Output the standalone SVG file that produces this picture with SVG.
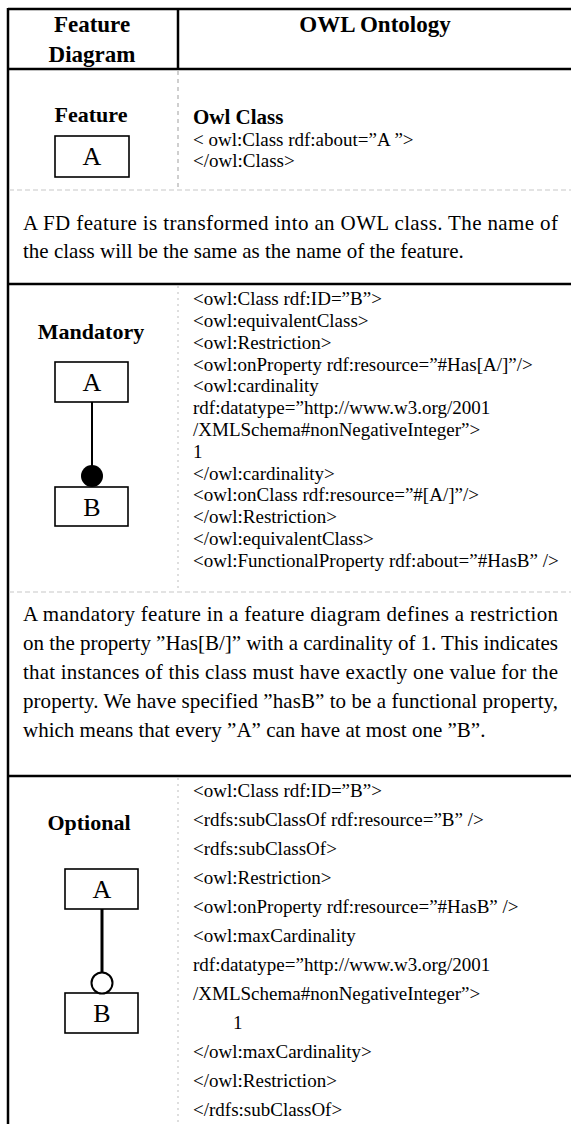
<svg xmlns="http://www.w3.org/2000/svg" width="571" height="1124" viewBox="0 0 571 1124">
<style>
text{font-family:"Liberation Serif","Times New Roman",serif;fill:#000}
.hd{font-size:23px;font-weight:bold}
.lbl{font-size:22px;font-weight:bold}
.box{fill:#fff;stroke:#000;stroke-width:1.6}
.bl{font-size:26px}
.code{font-size:19px}
.para{font-size:21px}
.solid{stroke:#000;stroke-width:2.5;fill:none}
.dash{stroke:#c8c8c8;stroke-width:1.2;stroke-dasharray:5 3;fill:none}
.vdash{stroke:#cfcfcf;stroke-width:2;stroke-dasharray:4 4;fill:none}
.vdot{stroke:#d4d4d4;stroke-width:1.5;stroke-dasharray:2 4;fill:none}
.edge{stroke:#000;fill:none}
</style>
<rect width="571" height="1124" fill="#fff"/>
<g id="table">
<line class="solid" x1="8" y1="9" x2="571" y2="9"/>
<line class="solid" x1="8" y1="8" x2="8" y2="1124"/>
<line class="solid" x1="8" y1="69" x2="571" y2="69"/>
<line class="solid" x1="178" y1="9" x2="178" y2="69"/>
<line class="vdash" x1="178" y1="71" x2="178" y2="190"/>
<line class="dash" x1="9" y1="190" x2="571" y2="190"/>
<line class="solid" x1="8" y1="284" x2="571" y2="284"/>
<line class="vdot" x1="178" y1="286" x2="178" y2="592"/>
<line class="dash" x1="9" y1="592" x2="571" y2="592"/>
<line class="solid" x1="8" y1="776" x2="571" y2="776"/>
<line class="vdot" x1="178" y1="778" x2="178" y2="1124"/>
</g>
<g id="header">
<text class="hd" x="92" y="32" text-anchor="middle">Feature</text>
<text class="hd" x="92" y="62" text-anchor="middle">Diagram</text>
<text class="hd" x="375" y="32" text-anchor="middle">OWL Ontology</text>
</g>
<g id="feature-row">
<text class="lbl" x="91" y="122" text-anchor="middle">Feature</text>
<text class="lbl" x="193" y="124" style="font-size:21px">Owl Class</text>
<text class="code" x="193" y="146">&lt; owl:Class rdf:about=”A ”&gt;</text>
<text class="code" x="193" y="167">&lt;/owl:Class&gt;</text>
</g>
<g id="node-feature-A">
<rect class="box" x="55" y="136" width="74" height="41"/>
<text class="bl" x="92" y="165" text-anchor="middle">A</text>
</g>
<g id="feature-desc">
<text class="para" x="23" y="230" textLength="535" lengthAdjust="spacing">A FD feature is transformed into an OWL class. The name of</text>
<text class="para" x="23" y="258">the class will be the same as the name of the feature.</text>
</g>
<g id="mandatory-row">
<text class="lbl" x="91" y="339" text-anchor="middle">Mandatory</text>
<text class="code" x="193" y="305">&lt;owl:Class rdf:ID=”B”&gt;</text>
<text class="code" x="193" y="327">&lt;owl:equivalentClass&gt;</text>
<text class="code" x="193" y="349">&lt;owl:Restriction&gt;</text>
<text class="code" x="193" y="371">&lt;owl:onProperty rdf:resource=”#Has[A/]”/&gt;</text>
<text class="code" x="193" y="392">&lt;owl:cardinality</text>
<text class="code" x="193" y="414">rdf:datatype=”http://www.w3.org/2001</text>
<text class="code" x="193" y="436">/XMLSchema#nonNegativeInteger”&gt;</text>
<text class="code" x="193" y="458">1</text>
<text class="code" x="193" y="480">&lt;/owl:cardinality&gt;</text>
<text class="code" x="193" y="501">&lt;owl:onClass rdf:resource=”#[A/]”/&gt;</text>
<text class="code" x="193" y="523">&lt;/owl:Restriction&gt;</text>
<text class="code" x="193" y="545">&lt;/owl:equivalentClass&gt;</text>
<text class="code" x="193" y="567">&lt;owl:FunctionalProperty rdf:about=”#HasB” /&gt;</text>
</g>
<g id="node-mandatory-A">
<rect class="box" x="55" y="362" width="73" height="40"/>
<text class="bl" x="92" y="391" text-anchor="middle">A</text>
</g>
<g id="node-mandatory-B">
<rect class="box" x="55" y="487" width="73" height="39"/>
<text class="bl" x="92" y="516" text-anchor="middle">B</text>
</g>
<g id="mandatory-desc">
<text class="para" x="23" y="621" textLength="535" lengthAdjust="spacing">A mandatory feature in a feature diagram defines a restriction</text>
<text class="para" x="23" y="650" textLength="535" lengthAdjust="spacing">on the property ”Has[B/]” with a cardinality of 1. This indicates</text>
<text class="para" x="23" y="679" textLength="535" lengthAdjust="spacing">that instances of this class must have exactly one value for the</text>
<text class="para" x="23" y="708" textLength="535" lengthAdjust="spacing">property. We have specified ”hasB” to be a functional property,</text>
<text class="para" x="23" y="737">which means that every ”A” can have at most one ”B”.</text>
</g>
<g id="optional-row">
<text class="lbl" x="89" y="830" text-anchor="middle">Optional</text>
<text class="code" x="193" y="797">&lt;owl:Class rdf:ID=”B”&gt;</text>
<text class="code" x="193" y="826">&lt;rdfs:subClassOf rdf:resource=”B” /&gt;</text>
<text class="code" x="193" y="855">&lt;rdfs:subClassOf&gt;</text>
<text class="code" x="193" y="884">&lt;owl:Restriction&gt;</text>
<text class="code" x="193" y="913">&lt;owl:onProperty rdf:resource=”#HasB” /&gt;</text>
<text class="code" x="193" y="942">&lt;owl:maxCardinality</text>
<text class="code" x="193" y="971">rdf:datatype=”http://www.w3.org/2001</text>
<text class="code" x="193" y="1000">/XMLSchema#nonNegativeInteger”&gt;</text>
<text class="code" x="233" y="1029">1</text>
<text class="code" x="193" y="1058">&lt;/owl:maxCardinality&gt;</text>
<text class="code" x="193" y="1087">&lt;/owl:Restriction&gt;</text>
<text class="code" x="193" y="1116">&lt;/rdfs:subClassOf&gt;</text>
</g>
<g id="node-optional-A">
<rect class="box" x="65" y="869" width="73" height="40"/>
<text class="bl" x="102" y="898" text-anchor="middle">A</text>
</g>
<g id="node-optional-B">
<rect class="box" x="65" y="993" width="73" height="40"/>
<text class="bl" x="102" y="1022" text-anchor="middle">B</text>
</g>
<g id="connectors">
<line class="edge" x1="92" y1="402" x2="92" y2="468" stroke-width="2"/>
<circle cx="92" cy="476" r="11" fill="#000"/>
<line class="edge" x1="102" y1="909" x2="102" y2="972" stroke-width="3"/>
<circle cx="102" cy="983" r="10.5" fill="#fff" stroke="#000" stroke-width="2"/>
</g>
</svg>
